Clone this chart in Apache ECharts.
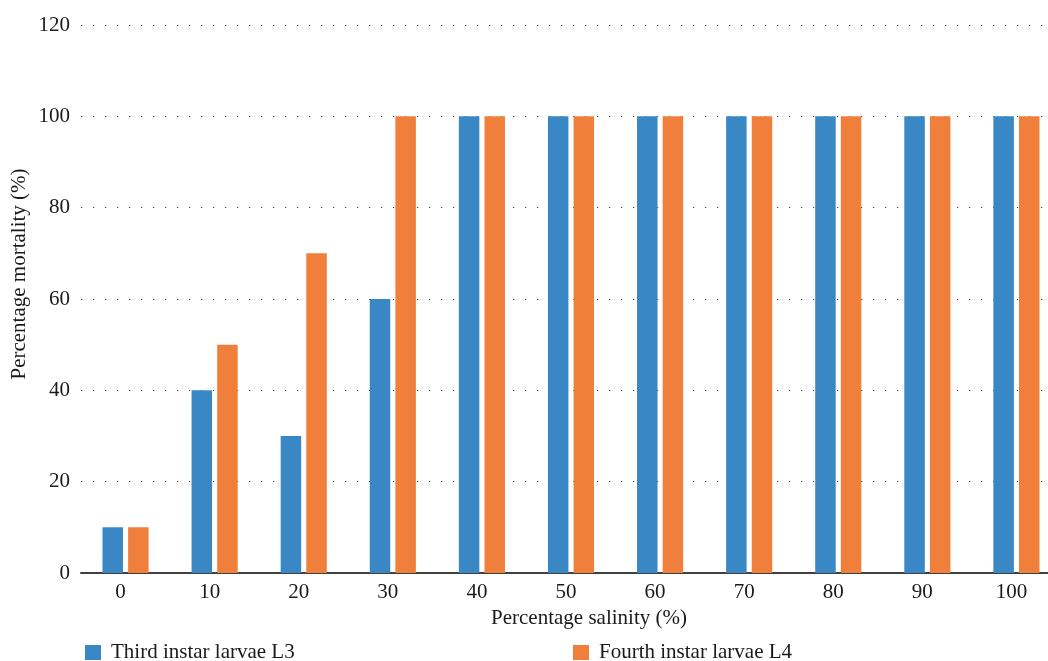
<!DOCTYPE html>
<html><head><meta charset="utf-8">
<script src="https://cdn.jsdelivr.net/npm/echarts@6/dist/echarts.min.js"></script>
<style>html,body{margin:0;padding:0;background:#fff}#c{width:1048px;height:661px}</style>
</head><body><div id="c"></div>
<script>
const categories = ['0','10','20','30','40','50','60','70','80','90','100'];
const thirdInstar = [10,40,30,60,100,100,100,100,100,100,100];
const fourthInstar = [10,50,70,100,100,100,100,100,100,100,100];
const yTicks = {min:0, max:120, interval:20};
const font = 'Liberation Serif';
const fs = 21;
const chart = echarts.init(document.getElementById('c'));
chart.setOption({
  animation:false,
  textStyle:{fontFamily:font},
  grid:{left:81, top:25, width:980, height:548, outerBoundsMode:'none', containLabel:false},
  legend:[
    {data:['Third instar larvae L3'], left:80, top:637, itemWidth:16, itemHeight:15, icon:'rect',
     textStyle:{fontFamily:font, fontSize:fs, color:'#1a1a1a', padding:[0,0,0,5]}},
    {data:['Fourth instar larvae L4'], left:568, top:637, itemWidth:16, itemHeight:15, icon:'rect',
     textStyle:{fontFamily:font, fontSize:fs, color:'#1a1a1a', padding:[0,0,0,5]}}
  ],
  xAxis:{type:'category', data:categories,
    name:'Percentage salinity (%)', nameLocation:'middle', nameGap:35, nameMoveOverlap:false,
    nameTextStyle:{fontFamily:font, fontSize:fs, color:'#1a1a1a', padding:[0,0,0,36]},
    axisLine:{lineStyle:{color:'#404040', width:2}}, axisTick:{show:false},
    axisLabel:{fontFamily:font, fontSize:fs, color:'#1a1a1a', margin:9, padding:[0,10,0,0]}},
  yAxis:{type:'value', min:yTicks.min, max:yTicks.max, interval:yTicks.interval,
    name:'Percentage mortality (%)', nameLocation:'middle', nameGap:51, nameMoveOverlap:false,
    nameTextStyle:{fontFamily:font, fontSize:fs, color:'#1a1a1a', padding:[0,0,0,50]},
    axisLine:{show:false}, axisTick:{show:false},
    axisLabel:{fontFamily:font, fontSize:fs, color:'#1a1a1a', margin:11},
    splitLine:{lineStyle:{color:'#444', width:1.2, type:[1.2,10.8]}}},
  series:[
    {name:'Third instar larvae L3', type:'bar', data:thirdInstar, barWidth:20.5, barGap:'25%',
     itemStyle:{color:'#3a87c6'}},
    {name:'Fourth instar larvae L4', type:'bar', data:fourthInstar, barWidth:20.5,
     itemStyle:{color:'#f07f3c'}}
  ]
});
</script></body></html>
